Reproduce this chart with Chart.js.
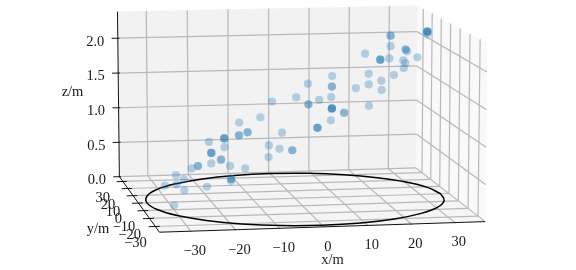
<!DOCTYPE html>
<html lang="en">
<head>
<meta charset="UTF-8">
<title>3D scatter</title>
<script src="https://cdn.jsdelivr.net/npm/chart.js"></script>
<style>
  html, body { margin: 0; padding: 0; background: #fff; }
  canvas { display: block; }
</style>
</head>
<body>
<canvas id="chart" width="576" height="270"></canvas>
<script>
// repeated entries are coincident samples, they show up as darker dots
const xs = [-29.7,-29.7,-26.1,-24.9,-27.6,-26.2,-21.6,-21.9,-24.7,-24.7,
  -12.3,-16.7,-16.7,-14.4,-14.2,-16.6,-16.6,-22.5,-18.3,-18.3,
  -18.3,-23.6,-14.9,-14.9,-14.9,-17.6,-16.4,-16.4,-10.9,-10.9,
  -11,-10.4,-2.6,-2.3,-2.4,-2.4,-3.6,-5.4,-7.8,4.7,
  1.6,3.9,3.9,2.4,9,9,9,7.4,6.5,6.5,
  6.5,10.4,11.6,4.6,4.6,9,8.6,8.6,16.8,17.2,
  13.5,18.9,18.2,18.2,18.2,23.7,19.5,20.6,19.9,23.3,
  21,21,25.6,25,25,27.9,28.5,25.6,22.9,30,
  31,31,31,31,33.2];
const ys = [-8,8,15,10,3,0,-5,18,-12,-12,
  20,-10,-10,5,-15,6,6,-18,10,10,
  10,-22,12,12,12,-6,-20,-20,2,2,
  14,-25,22,8,-10,-10,-3,17,-14,25,
  -8,4,4,-18,20,20,20,-6,-12,-12,
  -12,9,16,-22,-22,1,-16,-16,12,-2,
  -20,7,-10,-10,-10,15,-5,20,-12,3,
  -8,-8,10,-6,-6,6,13,-3,-14,4,
  -2,-2,-2,-2,8];
const zs = [0.04,0.15,0.22,0.21,0.21,0.16,0.25,0.28,0.61,0.61,
  0.28,0.4,0.4,0.22,0.59,0.51,0.51,0.7,0.57,0.57,
  0.57,1.03,0.75,0.75,0.75,0.8,1.09,1.09,0.92,0.92,
  0.95,0.99,0.37,0.62,0.77,0.77,0.95,0.99,1.48,1.19,
  1.66,1.27,1.27,1.52,0.79,0.79,0.79,1.13,1.35,1.35,
  1.35,1.15,1.26,1.73,1.73,1.68,1.32,1.32,1.41,1.28,
  1.73,1.65,1.98,1.98,1.98,1.35,1.65,1.83,2.01,2.06,
  2.29,2.29,1.6,2.08,2.08,1.96,1.78,1.87,1.89,1.89,
  2.29,2.29,2.29,2.29,2.18];

const xTicks = [-30,-20,-10,0,10,20,30];
const yTicks = [-30,-20,-10,0,10,20,30];
const zTicks = [0,0.5,1,1.5,2];
const zLabels = ["0.0","0.5","1.0","1.5","2.0"];
const circleX = [35,33.8,30.3,24.7,17.5,9.1,0,-9.1,-17.5,-24.7,-30.3,-33.8,-35,-33.8,-30.3,-24.7,-17.5,-9.1,0,9.1,17.5,24.7,30.3,33.8,35];
const circleY = [0,9.1,17.5,24.7,30.3,33.8,35,33.8,30.3,24.7,17.5,9.1,0,-9.1,-17.5,-24.7,-30.3,-33.8,-35,-33.8,-30.3,-24.7,-17.5,-9.1,0];

const xLim = [-37,37], yLim = [-37,37], zLim = [0,2.38];
const view = { phi: 10, elev: 10, dist: 10, h: 0.64, cx: 295, cy: 113, sx: 317, sy: 272 };
const sp = Math.sin(view.phi*Math.PI/180), cp = Math.cos(view.phi*Math.PI/180);
const se = Math.sin(view.elev*Math.PI/180), ce = Math.cos(view.elev*Math.PI/180);

// perspective view of the data box, returns values for the pixel-sized linear scales
function project(x, y, z) {
  const u = (x-xLim[0])/(xLim[1]-xLim[0])-0.5;
  const v = (y-yLim[0])/(yLim[1]-yLim[0])-0.5;
  const w = ((z-zLim[0])/(zLim[1]-zLim[0])-0.5)*view.h;
  const X = u*cp - v*sp;
  const Y = u*sp*se + v*cp*se + w*ce;
  const D = -u*sp*ce - v*cp*ce + w*se;
  const f = view.dist/(view.dist-D);
  return { x: view.cx+view.sx*X*f, y: view.cy-view.sy*Y*f };
}

function seg(a, b, color, width, order) {
  return { data: [project(...a), project(...b)], showLine: true, borderColor: color, borderWidth: width, pointRadius: 0, order: order, clip: false };
}
function pane(c, color) {
  return { data: c.concat([c[0]]).map(p=>project(...p)), showLine: true, borderWidth: 0, borderColor: color, backgroundColor: color, fill: 'shape', pointRadius: 0, order: 40, clip: false };
}
const [x0,x1]=xLim,[y0,y1]=yLim,[z0,z1]=zLim;
const grid="#b8b8b8", gw=1.2, ink="#111";
const sets=[
  pane([[x0,y1,z0],[x1,y1,z0],[x1,y1,z1],[x0,y1,z1]],"#f2f2f2"),
  pane([[x1,y1,z0],[x1,y0,z0],[x1,y0,z1],[x1,y1,z1]],"#f9f9f9"),
  pane([[x0,y1,z0],[x1,y1,z0],[x1,y0,z0],[x0,y0,z0]],"#f5f5f5")
];
xTicks.forEach(t=>{
  sets.push(seg([t,y0,z0],[t,y1,z0],grid,gw,30));
  sets.push(seg([t,y1,z0],[t,y1,z1],grid,gw,30));
  sets.push(seg([t,y0-0.4,z0],[t,y0,z0],ink,1,10));
});
yTicks.forEach(t=>{
  sets.push(seg([x0,t,z0],[x1,t,z0],grid,gw,30));
  sets.push(seg([x1,t,z0],[x1,t,z1],grid,gw,30));
  sets.push(seg([x0-1.5,t,z0],[x0+1,t,z0],ink,1,10));
});
zTicks.forEach(t=>{
  sets.push(seg([x0,y1,t],[x1,y1,t],grid,gw,30));
  sets.push(seg([x1,y1,t],[x1,y0,t],grid,gw,30));
  sets.push(seg([x0-1.5,y1,t],[x0+0.4,y1,t],ink,1,10));
});
sets.push(seg([x0,y1,z1],[x0,y1,z0],ink,1,10));
sets.push(seg([x0,y1,z0],[x0,y0,z0],ink,1,10));
sets.push(seg([x0,y0,z0],[x1,y0,z0],ink,1,10));
sets.push({ data: circleX.map((x,i)=>project(x,circleY[i],0)), showLine:true, borderColor:"#000", borderWidth:1.5, tension:0.4, pointRadius:0, order:5, clip:false });
sets.push({ data: xs.map((x,i)=>project(x,ys[i],zs[i])), pointRadius:4.1, pointBorderWidth:0, pointBackgroundColor:"rgba(31,119,180,0.31)", order:1, clip:false });

const axisText = {
  id: "axisText",
  afterDatasetsDraw(c) {
    const g=c.ctx;
    g.save();
    g.fillStyle="#1a1a1a";
    g.font='14.5px "Liberation Serif"';
    g.textBaseline="middle";
    g.textAlign="right";
    zTicks.forEach((t,i)=>{ const p=project(x0,y1,t); g.fillText(zLabels[i],p.x-13.5,p.y+3.5); });
    g.textAlign="center";
    xTicks.forEach(t=>{ const p=project(t,y0,z0); g.fillText(String(t).replace("-","\u2212"),p.x+4,p.y+20); });
    yTicks.forEach(t=>{ const p=project(x0,t,z0); g.fillText(String(t).replace("-","\u2212"),p.x-20,p.y+16.5); });
    g.fillText("x/m",332.5,260);
    g.fillText("y/m",98,229.5);
    g.fillText("z/m",72.5,92);
    g.restore();
  }
};

new Chart(document.getElementById("chart"), {
  type: "scatter",
  data: { datasets: sets },
  plugins: [axisText],
  options: {
    responsive: false,
    animation: false,
    layout: { padding: 0, autoPadding: false },
    plugins: { legend: { display: false }, tooltip: { enabled: false } },
    scales: {
      x: { type: "linear", min: 0, max: 576, display: false },
      y: { type: "linear", min: 0, max: 270, reverse: true, display: false }
    }
  }
});
</script>
</body>
</html>
